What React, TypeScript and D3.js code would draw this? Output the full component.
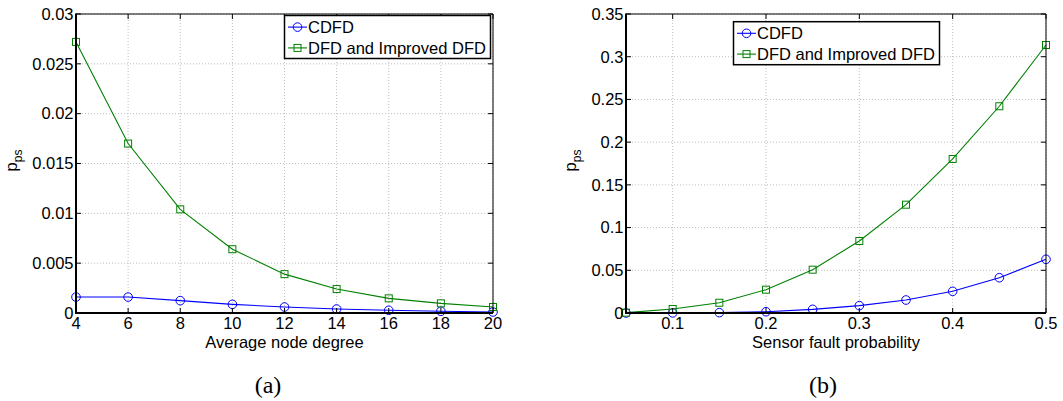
import React from 'react';
import * as d3 from 'd3';

// Panel (a): probability vs. average node degree
const nodeDegree = [4, 6, 8, 10, 12, 14, 16, 18, 20];
const cdfdByDegree = [0.0016, 0.0016, 0.00124, 0.00087, 0.0006, 0.0004, 0.00027, 0.00017, 0.0001];
const dfdByDegree = [0.0272, 0.017, 0.0104, 0.0064, 0.0039, 0.0024, 0.00147, 0.00097, 0.0006];
const degreeTicks = [4, 6, 8, 10, 12, 14, 16, 18, 20];
const degreeYTicks = [0, 0.005, 0.01, 0.015, 0.02, 0.025, 0.03];

// Panel (b): probability vs. sensor fault probability
const faultProb = [0.05, 0.1, 0.15, 0.2, 0.25, 0.3, 0.35, 0.4, 0.45, 0.5];
const cdfdByFault = [0, 0.0001, 0.0004, 0.0015, 0.0043, 0.0086, 0.0152, 0.0254, 0.0413, 0.0628];
const dfdByFault = [0.0004, 0.0047, 0.012, 0.0273, 0.0507, 0.0843, 0.1268, 0.1803, 0.242, 0.3137];
const faultTicks = [0.1, 0.2, 0.3, 0.4, 0.5];
const faultYTicks = [0, 0.05, 0.1, 0.15, 0.2, 0.25, 0.3, 0.35];

const legendLabels = ['CDFD', 'DFD and Improved DFD'];

const BLUE = '#0000ff';
const GREEN = '#008000';
const FONT = '"Liberation Sans", Arial, Helvetica, sans-serif';
const FS = 16.5;

const fmt = (v: number) => String(+v.toFixed(4));

type Series = { xs: number[]; ys: number[]; color: string; marker: 'circle' | 'square' };

type PanelProps = {
  x0: number; x1: number; y0: number; y1: number;
  xDomain: [number, number]; yDomain: [number, number];
  xTicks: number[]; yTicks: number[];
  series: Series[];
  legendX: number; legendY: number;
  xLabel: string; yLabelX: number;
  caption: string; captionX: number;
};

function Marker({ kind, cx, cy, color }: { kind: 'circle' | 'square'; cx: number; cy: number; color: string }) {
  if (kind === 'circle') return <circle cx={cx} cy={cy} r={4.3} fill="none" stroke={color} strokeWidth={1} />;
  return <rect x={cx - 3.5} y={cy - 3.5} width={7} height={7} fill="none" stroke={color} strokeWidth={1} />;
}

function Panel(p: PanelProps) {
  const x = d3.scaleLinear().domain(p.xDomain).range([p.x0, p.x1]);
  const y = d3.scaleLinear().domain(p.yDomain).range([p.y1, p.y0]);
  const tickLen = 5;
  const legendW = 206;
  const legendH = 43;
  return (
    <g>
      {/* dotted grid */}
      {p.xTicks.map((t) => (
        <line key={'gx' + t} x1={x(t)} x2={x(t)} y1={p.y0} y2={p.y1} stroke="#bdbdbd" strokeWidth={1} strokeDasharray="1,2" />
      ))}
      {p.yTicks.map((t) => (
        <line key={'gy' + t} x1={p.x0} x2={p.x1} y1={y(t)} y2={y(t)} stroke="#bdbdbd" strokeWidth={1} strokeDasharray="1,2" />
      ))}
      {/* data */}
      {p.series.map((s, i) => {
        const pts = s.xs.map((v, j) => [x(v), y(s.ys[j])] as [number, number]);
        const path = d3.line()(pts) || '';
        return (
          <g key={'s' + i}>
            <path d={path} fill="none" stroke={s.color} strokeWidth={1.1} />
            {pts.map(([cx, cy], j) => (
              <Marker key={j} kind={s.marker} cx={cx} cy={cy} color={s.color} />
            ))}
          </g>
        );
      })}
      {/* ticks on all four sides */}
      {p.xTicks.map((t) => (
        <g key={'tx' + t}>
          <line x1={x(t)} x2={x(t)} y1={p.y1} y2={p.y1 - tickLen} stroke="#000" />
          <line x1={x(t)} x2={x(t)} y1={p.y0} y2={p.y0 + tickLen} stroke="#000" />
          <text x={x(t)} y={p.y1 + 16.3} textAnchor="middle" fontFamily={FONT} fontSize={FS} fill="#000">{fmt(t)}</text>
        </g>
      ))}
      {p.yTicks.map((t) => (
        <g key={'ty' + t}>
          <line x1={p.x0} x2={p.x0 + tickLen} y1={y(t)} y2={y(t)} stroke="#000" />
          <line x1={p.x1} x2={p.x1 - tickLen} y1={y(t)} y2={y(t)} stroke="#000" />
          <text x={p.x0 - 2.5} y={y(t) + 5.8} textAnchor="end" fontFamily={FONT} fontSize={FS} fill="#000">{fmt(t)}</text>
        </g>
      ))}
      {/* axes box */}
      <line x1={p.x0} x2={p.x1} y1={p.y0} y2={p.y0} stroke="#000" strokeWidth={1} />
      <line x1={p.x1} x2={p.x1} y1={p.y0} y2={p.y1} stroke="#000" strokeWidth={1} />
      <line x1={p.x0} x2={p.x0} y1={p.y0 - 0.5} y2={p.y1 + 1} stroke="#000" strokeWidth={2} />
      <line x1={p.x0} x2={p.x1} y1={p.y1} y2={p.y1} stroke="#000" strokeWidth={2} />
      {/* legend */}
      <rect x={p.legendX} y={p.legendY} width={legendW} height={legendH} fill="#fff" stroke="#000" strokeWidth={1.5} />
      {p.series.map((s, i) => {
        const by = p.legendY + 17.4 + i * 20.8;
        const cy = by - 5.8;
        return (
          <g key={'l' + i}>
            <line x1={p.legendX + 3.5} x2={p.legendX + 22.5} y1={cy} y2={cy} stroke={s.color} strokeWidth={1.1} />
            <Marker kind={s.marker} cx={p.legendX + 13} cy={cy} color={s.color} />
            <text x={p.legendX + 23.5} y={by} fontFamily={FONT} fontSize={FS} fill="#000">{legendLabels[i]}</text>
          </g>
        );
      })}
      {/* axis labels */}
      <text x={(p.x0 + p.x1) / 2} y={p.y1 + 34.5} textAnchor="middle" fontFamily={FONT} fontSize={FS} fill="#000">{p.xLabel}</text>
      <text transform={`translate(${p.yLabelX},${(p.y0 + p.y1) / 2 - 3}) rotate(-90)`} textAnchor="middle" fontFamily={FONT} fontSize={FS} fill="#000">
        p<tspan dy={4.5} fontSize={12}>ps</tspan>
      </text>
      {/* sub-figure caption */}
      <text x={p.captionX} y={392.5} textAnchor="middle" fontFamily='"Liberation Serif", "Times New Roman", serif' fontSize={24} fill="#000">{p.caption}</text>
    </g>
  );
}

export default function App() {
  return (
    <div style={{ position: 'absolute', left: 0, top: 0 }}>
      <svg width={1063} height={401} viewBox="0 0 1063 401" style={{ display: 'block', background: '#fff' }}>
        <Panel
          x0={76} x1={493} y0={14} y1={313}
          xDomain={[4, 20]} yDomain={[0, 0.03]}
          xTicks={degreeTicks} yTicks={degreeYTicks}
          series={[
            { xs: nodeDegree, ys: cdfdByDegree, color: BLUE, marker: 'circle' },
            { xs: nodeDegree, ys: dfdByDegree, color: GREEN, marker: 'square' },
          ]}
          legendX={284.5} legendY={15.5}
          xLabel="Average node degree" yLabelX={17}
          caption="(a)" captionX={268}
        />
        <Panel
          x0={626} x1={1046} y0={14} y1={313}
          xDomain={[0.05, 0.5]} yDomain={[0, 0.35]}
          xTicks={faultTicks} yTicks={faultYTicks}
          series={[
            { xs: faultProb, ys: cdfdByFault, color: BLUE, marker: 'circle' },
            { xs: faultProb, ys: dfdByFault, color: GREEN, marker: 'square' },
          ]}
          legendX={733.5} legendY={21.7}
          xLabel="Sensor fault probability" yLabelX={576}
          caption="(b)" captionX={823}
        />
      </svg>
    </div>
  );
}
